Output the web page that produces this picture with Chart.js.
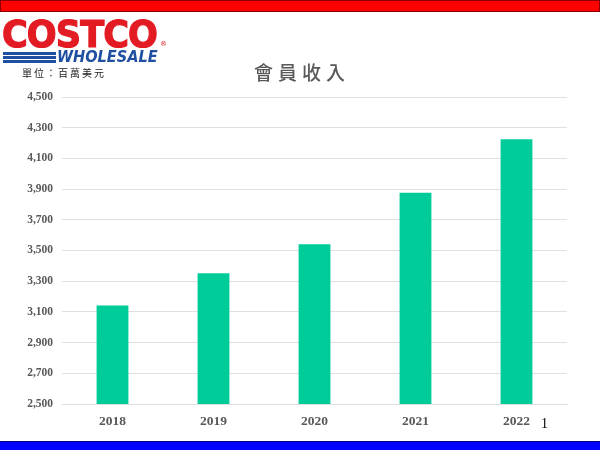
<!DOCTYPE html>
<html>
<head>
<meta charset="utf-8">
<script src="https://cdn.jsdelivr.net/npm/chart.js@4/dist/chart.umd.min.js"></script>
<style>
  html, body { margin: 0; padding: 0; background: #fff; }
  #page { position: relative; width: 600px; height: 450px; overflow: hidden; }
  #chart { position: absolute; left: 0; top: 0; }
  .topbar { position: absolute; left: 0; top: 0; width: 598px; height: 10px; background: #ff0000; border: 1px solid #8b0000; }
  .botbar { position: absolute; left: 0; top: 441px; width: 600px; height: 9px; background: #0000ff; border-top: 1px solid #000080; }
  .logo-costco { position: absolute; left: 2px; top: 16px; font: bold 37px "DejaVu Sans", sans-serif; color: #e31b23;
                 transform-origin: 0 0; transform: scaleX(0.95); letter-spacing: -1px; line-height: 37px;
                 -webkit-text-stroke: 1.2px #e31b23; }
  .logo-r { position: absolute; left: 160px; top: 40px; font: 7px "DejaVu Sans", sans-serif; color: #e31b23; }
  .stripe { position: absolute; left: 3px; width: 53px; height: 3px; background: #1f4fa0; }
  .logo-wholesale { position: absolute; left: 57px; top: 50px; font: italic bold 15px "DejaVu Sans", sans-serif; color: #1f4fa0;
                    transform-origin: 0 0; transform: scaleX(0.97); line-height: 15px; }
  .unit { position: absolute; left: 22px; top: 65px; font: 10px "Noto Sans CJK TC", sans-serif; letter-spacing: 2px; color: #222; }
  .title { position: absolute; left: 0; width: 604px; top: 58px; text-align: center; font: 500 19px "Noto Sans CJK TC", sans-serif;
           letter-spacing: 5px; color: #595959; }
  .pnum { position: absolute; left: 541px; top: 416px; font: 14px "Liberation Serif", serif; color: #000; }
</style>
</head>
<body>
<div id="page">
  <canvas id="chart" width="600" height="450"></canvas>
  <div class="topbar"></div>
  <div class="logo-costco">COSTCO</div>
  <div class="logo-r">®</div>
  <div class="stripe" style="top:52px"></div>
  <div class="stripe" style="top:56px"></div>
  <div class="stripe" style="top:60px"></div>
  <div class="logo-wholesale">WHOLESALE</div>
  <div class="unit">單位：百萬美元</div>
  <div class="title">會員收入</div>
  <div class="pnum">1</div>
  <div class="botbar"></div>
</div>
<script>
const years = ['2018', '2019', '2020', '2021', '2022'];
const membershipFees = [3142, 3352, 3541, 3877, 4224];
const yMin = 2500;
const yMax = 4500;
const yStep = 200;

const tickFont = { family: 'Liberation Serif', weight: 'bold' };

new Chart(document.getElementById('chart'), {
  type: 'bar',
  data: {
    labels: years,
    datasets: [{
      label: '會員收入',
      data: membershipFees,
      backgroundColor: '#00cc99',
      borderWidth: 0,
      barPercentage: 0.315,
      categoryPercentage: 1
    }]
  },
  options: {
    responsive: false,
    animation: false,
    layout: { padding: { top: 97, right: 33, left: 0, bottom: 0 } },
    plugins: {
      legend: { display: false },
      tooltip: { enabled: false }
    },
    scales: {
      x: {
        grid: { display: false, drawTicks: false },
        border: { color: '#e0e0e0', width: 1 },
        ticks: { color: '#595959', padding: 9, font: { ...tickFont, size: 13.5 } },
        afterFit: s => { s.height = 46; }
      },
      y: {
        min: yMin,
        max: yMax,
        grid: { color: '#e0e0e0', drawTicks: false },
        border: { display: false },
        ticks: {
          stepSize: yStep,
          color: '#595959',
          padding: 9,
          font: { ...tickFont, size: 11.5 },
          callback: v => v.toLocaleString('en-US')
        },
        afterFit: s => { s.width = 62; }
      }
    }
  }
});
</script>
</body>
</html>
